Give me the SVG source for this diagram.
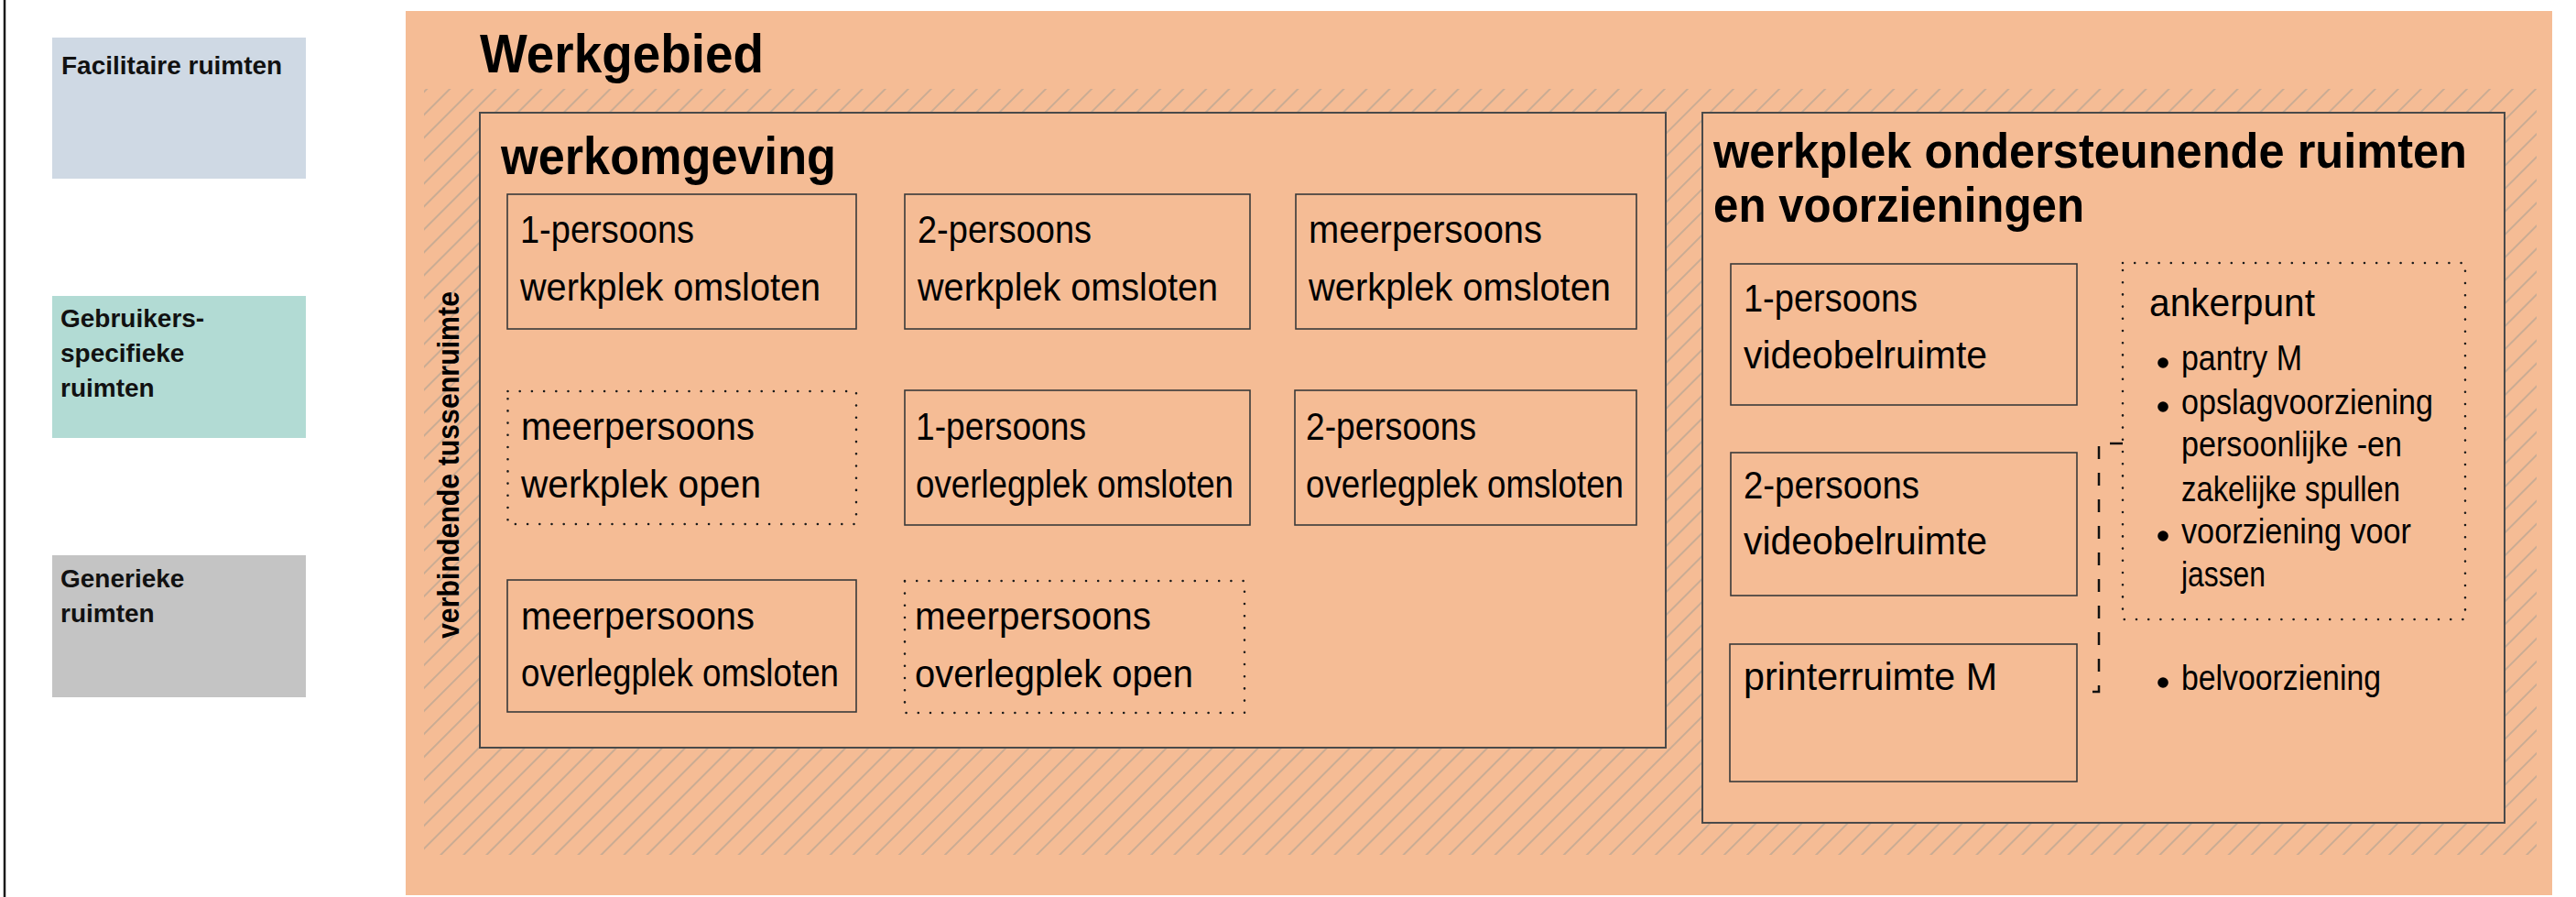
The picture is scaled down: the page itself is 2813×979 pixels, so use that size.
<svg xmlns="http://www.w3.org/2000/svg" width="2813" height="979" viewBox="0 0 2813 979">
<style>
.lg{font-family:"Liberation Sans",Arial,sans-serif;font-weight:bold;font-size:28px;fill:#111}
.h1{font-family:"Liberation Sans",Arial,sans-serif;font-weight:bold;font-size:60px;fill:#000}
.h2{font-family:"Liberation Sans",Arial,sans-serif;font-weight:bold;font-size:57px;fill:#000}
.h3{font-family:"Liberation Sans",Arial,sans-serif;font-weight:bold;font-size:54px;fill:#000}
.vt{font-family:"Liberation Sans",Arial,sans-serif;font-weight:bold;font-size:34px;fill:#000}
.t{font-family:"Liberation Sans",Arial,sans-serif;font-size:42px;fill:#000}
.b{font-family:"Liberation Sans",Arial,sans-serif;font-size:38px;fill:#000}
.box{fill:#f5bc95;stroke:#3a3a3a;stroke-width:1.6}
.frame{fill:#f5bc95;stroke:#4a4a4a;stroke-width:2}
.dot{fill:none;stroke:#1a1a1a;stroke-width:2.6;stroke-linecap:round;stroke-dasharray:0 13.2}
.conn{fill:none;stroke:#111;stroke-width:2.5;stroke-dasharray:14 15}
</style>
<defs>
<pattern id="hatch" width="17.7" height="10" patternUnits="userSpaceOnUse" patternTransform="rotate(45)">
<line x1="8.85" y1="0" x2="8.85" y2="10" stroke="#b9a593" stroke-width="1.4"/>
</pattern>
</defs>
<rect x="0" y="0" width="2813" height="979" fill="#ffffff"/>
<line x1="5" y1="0" x2="5" y2="979" stroke="#1a1a1a" stroke-width="2.5"/>

<g id="legend-facilitaire">
<rect x="57" y="41" width="277" height="154" fill="#cfd9e4"/>
<text class="lg" x="67" y="81">Facilitaire ruimten</text>
</g>
<g id="legend-gebruikers">
<rect x="57" y="323" width="277" height="155" fill="#b2dbd4"/>
<text class="lg" x="66" y="357">Gebruikers-</text>
<text class="lg" x="66" y="395">specifieke</text>
<text class="lg" x="66" y="433">ruimten</text>
</g>
<g id="legend-generieke">
<rect x="57" y="606" width="277" height="155" fill="#c4c4c4"/>
<text class="lg" x="66" y="641">Generieke</text>
<text class="lg" x="66" y="679">ruimten</text>
</g>

<g id="werkgebied">
<rect x="443" y="12" width="2344" height="965" fill="#f5bc95"/>
<rect x="463" y="97" width="2307" height="836" fill="url(#hatch)"/>
<text class="h1" x="524" y="79" textLength="310" lengthAdjust="spacingAndGlyphs">Werkgebied</text>
<text class="vt" transform="translate(501,697) rotate(-90)" x="0" y="0" textLength="379" lengthAdjust="spacingAndGlyphs">verbindende tussenruimte</text>
</g>

<g id="werkomgeving">
<rect class="frame" x="524" y="123" width="1295" height="693"/>
<text class="h2" x="547" y="190" textLength="366" lengthAdjust="spacingAndGlyphs">werkomgeving</text>
</g>

<g id="werkplek-1p-omsloten">
<rect class="box" x="554" y="212" width="381" height="147"/>
<text class="t" x="568" y="265" textLength="190" lengthAdjust="spacingAndGlyphs">1-persoons</text>
<text class="t" x="568" y="328" textLength="328" lengthAdjust="spacingAndGlyphs">werkplek omsloten</text>
</g>
<g id="werkplek-2p-omsloten">
<rect class="box" x="988" y="212" width="377" height="147"/>
<text class="t" x="1002" y="265" textLength="190" lengthAdjust="spacingAndGlyphs">2-persoons</text>
<text class="t" x="1002" y="328" textLength="328" lengthAdjust="spacingAndGlyphs">werkplek omsloten</text>
</g>
<g id="werkplek-meer-omsloten">
<rect class="box" x="1415" y="212" width="372" height="147"/>
<text class="t" x="1429" y="265" textLength="255" lengthAdjust="spacingAndGlyphs">meerpersoons</text>
<text class="t" x="1429" y="328" textLength="330" lengthAdjust="spacingAndGlyphs">werkplek omsloten</text>
</g>

<g id="werkplek-meer-open">
<rect x="554" y="427" width="381" height="145" fill="none"/>
<rect class="dot" x="554.5" y="427" width="380.5" height="145"/>
<text class="t" x="569" y="480" textLength="255" lengthAdjust="spacingAndGlyphs">meerpersoons</text>
<text class="t" x="569" y="543" textLength="262" lengthAdjust="spacingAndGlyphs">werkplek open</text>
</g>
<g id="overlegplek-1p-omsloten">
<rect class="box" x="988" y="426" width="377" height="147"/>
<text class="t" x="1000" y="480" textLength="186" lengthAdjust="spacingAndGlyphs">1-persoons</text>
<text class="t" x="1000" y="543" textLength="347" lengthAdjust="spacingAndGlyphs">overlegplek omsloten</text>
</g>
<g id="overlegplek-2p-omsloten">
<rect class="box" x="1414" y="426" width="373" height="147"/>
<text class="t" x="1426" y="480" textLength="186" lengthAdjust="spacingAndGlyphs">2-persoons</text>
<text class="t" x="1426" y="543" textLength="347" lengthAdjust="spacingAndGlyphs">overlegplek omsloten</text>
</g>

<g id="overlegplek-meer-omsloten">
<rect class="box" x="554" y="633" width="381" height="144"/>
<text class="t" x="569" y="687" textLength="255" lengthAdjust="spacingAndGlyphs">meerpersoons</text>
<text class="t" x="569" y="749" textLength="347" lengthAdjust="spacingAndGlyphs">overlegplek omsloten</text>
</g>
<g id="overlegplek-meer-open">
<rect class="dot" x="988" y="634" width="371" height="144"/>
<text class="t" x="999" y="687" textLength="258" lengthAdjust="spacingAndGlyphs">meerpersoons</text>
<text class="t" x="999" y="750" textLength="304" lengthAdjust="spacingAndGlyphs">overlegplek open</text>
</g>

<g id="ondersteunend">
<rect class="frame" x="1859" y="123" width="876" height="775"/>
<text class="h3" x="1871" y="183" textLength="823" lengthAdjust="spacingAndGlyphs">werkplek ondersteunende ruimten</text>
<text class="h3" x="1871" y="242" textLength="405" lengthAdjust="spacingAndGlyphs">en voorzieningen</text>
</g>

<g id="videobel-1p">
<rect class="box" x="1890" y="288" width="378" height="154"/>
<text class="t" x="1904" y="340" textLength="190" lengthAdjust="spacingAndGlyphs">1-persoons</text>
<text class="t" x="1904" y="402" textLength="266" lengthAdjust="spacingAndGlyphs">videobelruimte</text>
</g>
<g id="videobel-2p">
<rect class="box" x="1890" y="494" width="378" height="156"/>
<text class="t" x="1904" y="544" textLength="192" lengthAdjust="spacingAndGlyphs">2-persoons</text>
<text class="t" x="1904" y="605" textLength="266" lengthAdjust="spacingAndGlyphs">videobelruimte</text>
</g>
<g id="printerruimte">
<rect class="box" x="1889" y="703" width="379" height="150"/>
<text class="t" x="1904" y="753" textLength="277" lengthAdjust="spacingAndGlyphs">printerruimte M</text>
</g>

<g id="ankerpunt">
<rect class="dot" x="2318" y="287" width="374" height="389"/>
<text class="t" x="2347" y="345" textLength="181" lengthAdjust="spacingAndGlyphs">ankerpunt</text>
<circle cx="2362" cy="396" r="5.8" fill="#000"/>
<text class="b" x="2382" y="404" textLength="132" lengthAdjust="spacingAndGlyphs">pantry M</text>
<circle cx="2362" cy="444" r="5.8" fill="#000"/>
<text class="b" x="2382" y="452" textLength="275" lengthAdjust="spacingAndGlyphs">opslagvoorziening</text>
<text class="b" x="2382" y="498" textLength="241" lengthAdjust="spacingAndGlyphs">persoonlijke -en</text>
<text class="b" x="2382" y="547" textLength="239" lengthAdjust="spacingAndGlyphs">zakelijke spullen</text>
<circle cx="2362" cy="585" r="5.8" fill="#000"/>
<text class="b" x="2382" y="593" textLength="251" lengthAdjust="spacingAndGlyphs">voorziening voor</text>
<text class="b" x="2382" y="640" textLength="92" lengthAdjust="spacingAndGlyphs">jassen</text>
</g>

<g id="belvoorziening">
<circle cx="2362" cy="745" r="5.8" fill="#000"/>
<text class="b" x="2382" y="753" textLength="218" lengthAdjust="spacingAndGlyphs">belvoorziening</text>
</g>

<g id="connectors">
<path class="conn" d="M2318,484 H2292 V755 H2280"/>
</g>
</svg>
